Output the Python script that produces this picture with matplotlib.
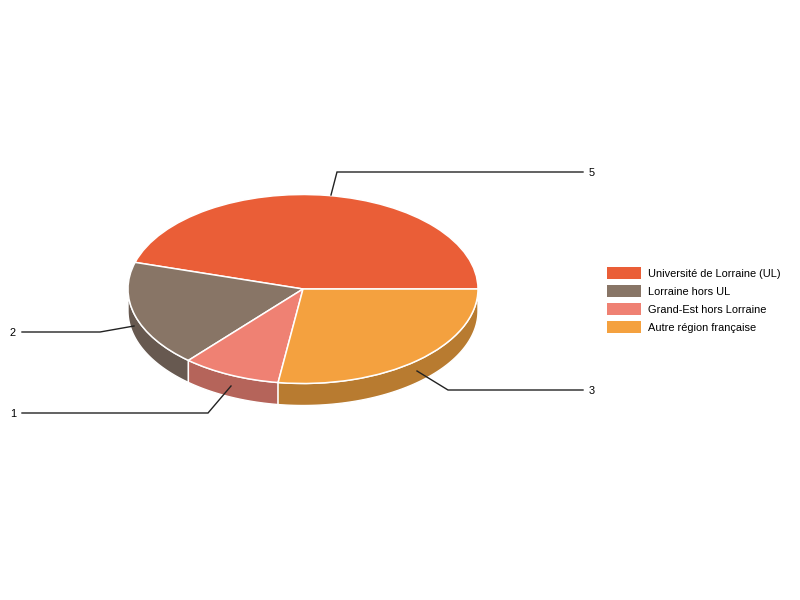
import numpy as np
import matplotlib
matplotlib.use('Agg')
import matplotlib.pyplot as plt
from matplotlib.patches import Rectangle

# Data
labels = ['Université de Lorraine (UL)', 'Lorraine hors UL', 'Grand-Est hors Lorraine', 'Autre région française']
values = [5, 2, 1, 3]
colors = ['#ea5e37', '#887566', '#ef8173', '#f4a13f']
side_colors = ['#b54a2c', '#675950', '#b5645a', '#b87b30']

# Pie geometry in pixels
cx, cy = 303.0, 289.0
rx, ry = 175.0, 94.5
depth = 22.0

plt.rcParams['font.family'] = ['Liberation Sans', 'DejaVu Sans']
fig = plt.figure(figsize=(8, 6), dpi=100)
ax = fig.add_axes([0, 0, 1, 1])

# Top of the pie, flattened by the axis limits
ax.pie(values, colors=colors, startangle=0, counterclock=True, radius=1,
       wedgeprops={'edgecolor': 'white', 'linewidth': 1.1, 'zorder': 5})
ax.set_aspect('auto')
ax.set_xlim((0 - cx) / rx, (800 - cx) / rx)
ax.set_ylim((cy - 600) / ry, (cy - 0) / ry)
ax.axis('off')

# px helper, pixels to data
def px(x, y):
    return (np.asarray(x, dtype=float) - cx) / rx, (cy - np.asarray(y, dtype=float)) / ry

# Side walls, only the front half shows
edges = np.concatenate([[0], np.cumsum(values)]) / np.sum(values) * 360.0
dy = depth / ry
for i in range(len(values)):
    a0 = max(edges[i], 180.0)
    a1 = edges[i + 1]
    if a1 <= 180.0:
        continue
    t = np.radians(np.linspace(a0, a1, 80))
    xs = np.cos(t)
    ys = np.sin(t)
    ax.fill(np.concatenate([xs, xs[::-1]]), np.concatenate([ys, ys[::-1] - dy]),
            facecolor=side_colors[i], edgecolor='white', linewidth=1.0, zorder=3)

# Leader lines
leaders = [([331, 337, 583], [195, 172, 172], '5', 589, 'left'),
           ([134, 100, 22], [326, 332, 332], '2', 16, 'right'),
           ([231, 208, 22], [386, 413, 413], '1', 16, 'right'),
           ([417, 448, 583], [371, 390, 390], '3', 589, 'left')]
for lx, ly, txt, tx, ha in leaders:
    xd, yd = px(lx, ly)
    ax.plot(xd, yd, color='#222222', linewidth=1.0, zorder=6, solid_joinstyle='miter', snap=False)
    txd, tyd = px(tx, ly[-1] + 0.7)
    ax.text(txd, tyd, txt, ha=ha, va='center', fontsize=7.9, color='black')

# Legend
leg_y = [273, 291, 309, 327]
for name, col, y in zip(labels, colors, leg_y):
    x0, y0 = px(607, y + 6)
    ax.add_patch(Rectangle((x0, y0), 34 / rx, 12 / ry, facecolor=col, edgecolor='none', zorder=6))
    xt, yt = px(648, y + 0.7)
    ax.text(xt, yt, name, ha='left', va='center', fontsize=7.9, color='black')

fig.savefig('out.png', dpi=100, facecolor='white')
